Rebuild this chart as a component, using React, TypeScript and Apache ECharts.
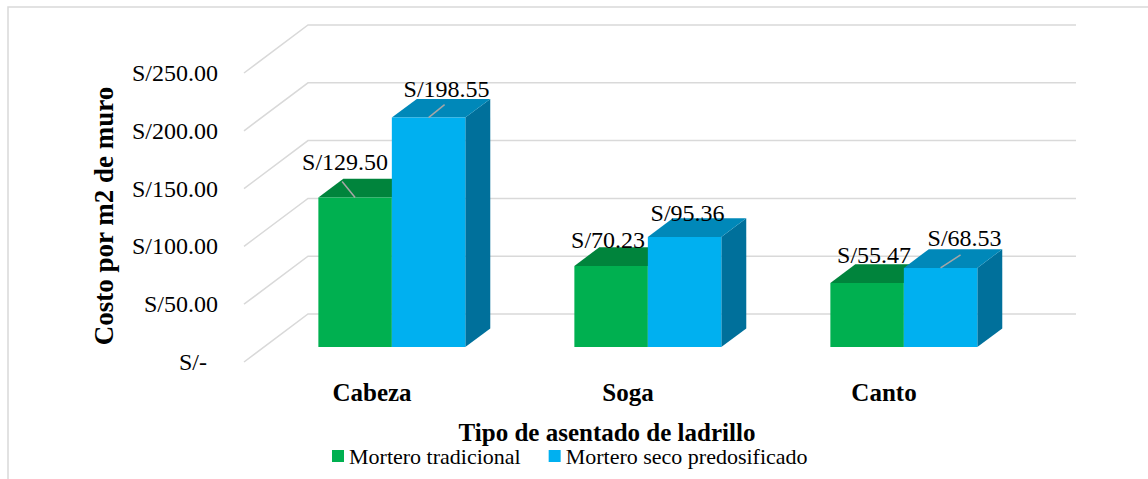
import React, { useEffect, useRef } from "react";
import * as echarts from "echarts";

const categories = ["Cabeza", "Soga", "Canto"];
const seriesNames = ["Mortero tradicional", "Mortero seco predosificado"];
const traditional = [129.5, 70.23, 55.47];
const dry = [198.55, 95.36, 68.53];
const yTicks = [0, 50, 100, 150, 200, 250];

// label placement tweaks (relative to the bar's front-top centre)
const tradLabelShift = [[-10, -35], [-3, -26], [7, -28]];
const dryLabelShift = [[18, -29], [3, -24], [24, -30]];
const tradLeader: (number[] | null)[] = [[-13, -16], null, null];
const dryLeader: (number[] | null)[] = [[16, -13], null, [20, -13]];

const FONT = "'Liberation Serif', serif";
const WALL = [64, -48];
const BAR_NEAR = 0.31;
const BAR_FAR = 0.7;
const BAR_FRAC = 0.287;

const GREEN = { front: "#00B050", top: "#00843C", side: "#006E32" };
const BLUE = { front: "#00B0F0", top: "#0088B9", side: "#00709B" };

function fmt(v: number) {
  return "S/" + v.toFixed(2);
}

function barRenderer(side: number, colors: any, shifts: number[][], leaders: (number[] | null)[]) {
  return (params: any, api: any) => {
    const i = params.dataIndex;
    const cat = api.value(0);
    const v = api.value(1);
    const p0 = api.coord([cat, 0]);
    const p1 = api.coord([cat, v]);
    const band = api.size([1, 0])[0];
    const w = band * BAR_FRAC;
    const ox = WALL[0] * BAR_NEAR;
    const oy = WALL[1] * BAR_NEAR;
    const dx = WALL[0] * (BAR_FAR - BAR_NEAR);
    const dy = WALL[1] * (BAR_FAR - BAR_NEAR);
    const xl = side < 0 ? p0[0] + ox - w : p0[0] + ox;
    const xr = xl + w;
    const yb = p0[1] + oy;
    const yt = p1[1] + oy;
    const cx = xl + w / 2;
    const children: any[] = [
      {
        type: "polygon",
        shape: { points: [[xr, yt], [xr + dx, yt + dy], [xr + dx, yb + dy], [xr, yb]] },
        style: { fill: colors.side },
      },
      {
        type: "polygon",
        shape: { points: [[xl, yt], [xl + dx, yt + dy], [xr + dx, yt + dy], [xr, yt]] },
        style: { fill: colors.top },
      },
      {
        type: "rect",
        shape: { x: xl, y: yt, width: w, height: yb - yt },
        style: { fill: colors.front },
      },
    ];
    const ld = leaders[i];
    if (ld) {
      children.push({
        type: "line",
        shape: { x1: cx, y1: yt, x2: cx + ld[0], y2: yt + ld[1] },
        style: { stroke: "#A6A6A6", lineWidth: 1.5 },
      });
    }
    const s = shifts[i];
    children.push({
      type: "text",
      style: {
        text: fmt(v),
        x: cx + s[0],
        y: yt + s[1],
        align: "center",
        verticalAlign: "middle",
        textAlign: "center",
        textVerticalAlign: "middle",
        fontSize: 24,
        fontFamily: FONT,
        fill: "#000",
      },
    });
    return { type: "group", children };
  };
}

export default function App() {
  const ref = useRef<HTMLDivElement>(null);
  useEffect(() => {
    if (!ref.current) return;
    const chart = echarts.init(ref.current, undefined, { renderer: "svg" });
    const option: any = {
      animation: false,
      backgroundColor: "#fff",
      textStyle: { fontFamily: FONT },
      grid: { left: 244, top: 73, width: 768, height: 289 },
      legend: {
        left: 332,
        top: 445,
        padding: 0,
        icon: "rect",
        itemWidth: 12,
        itemHeight: 12,
        itemGap: 28,
        textStyle: { fontSize: 22, fontFamily: FONT, color: "#000" },
        data: [
          { name: seriesNames[0], itemStyle: { color: GREEN.front } },
          { name: seriesNames[1], itemStyle: { color: BLUE.front } },
        ],
      },
      xAxis: {
        type: "category",
        data: categories,
        axisLine: { show: false },
        axisTick: { show: false },
        axisLabel: {
          margin: 18,
          fontSize: 25,
          fontWeight: "bold",
          fontFamily: FONT,
          color: "#000",
        },
      },
      yAxis: {
        type: "value",
        min: 0,
        max: 250,
        interval: 50,
        splitLine: { show: false },
        axisLine: { show: false },
        axisTick: { show: false },
        axisLabel: {
          margin: 26,
          fontSize: 24,
          fontFamily: FONT,
          color: "#000",
          formatter: (v: number) => (v === 0 ? "{z|S/-}" : fmt(v)),
          rich: { z: { fontSize: 24, fontFamily: FONT, color: "#000", padding: [0, 11, 0, 0] } },
        },
      },
      graphic: [
        {
          type: "rect",
          z: -10,
          shape: { x: 8, y: 7, width: 1400, height: 700 },
          style: { fill: "none", stroke: "#D9D9D9", lineWidth: 1.5 },
        },
        {
          type: "text",
          x: 104,
          y: 216,
          rotation: Math.PI / 2,
          style: {
            text: "Costo por m2 de muro",
            align: "center",
            verticalAlign: "middle",
            textAlign: "center",
            textVerticalAlign: "middle",
            fontSize: 27,
            fontWeight: "bold",
            fontFamily: FONT,
            fill: "#000",
          },
        },
        {
          type: "text",
          x: 607,
          y: 432,
          style: {
            text: "Tipo de asentado de ladrillo",
            align: "center",
            verticalAlign: "middle",
            textAlign: "center",
            textVerticalAlign: "middle",
            fontSize: 25,
            fontWeight: "bold",
            fontFamily: FONT,
            fill: "#000",
          },
        },
      ],
      series: [
        {
          type: "custom",
          name: "walls",
          z: 1,
          clip: false,
          silent: true,
          coordinateSystem: "cartesian2d",
          encode: { x: 0, y: 1 },
          data: yTicks.map((t) => [0, t]),
          renderItem: (params: any, api: any) => {
            const cs = params.coordSys;
            const p = api.coord([0, api.value(1)]);
            const y = p[1];
            return {
              type: "polyline",
              shape: {
                points: [
                  [cs.x, y],
                  [cs.x + WALL[0], y + WALL[1]],
                  [cs.x + cs.width + WALL[0], y + WALL[1]],
                ],
              },
              style: { stroke: "#D9D9D9", lineWidth: 1.5, fill: "none" },
            };
          },
        },
        {
          type: "custom",
          name: seriesNames[0],
          z: 2,
          clip: false,
          coordinateSystem: "cartesian2d",
          encode: { x: 0, y: 1 },
          itemStyle: { color: GREEN.front },
          data: categories.map((_, i) => [i, traditional[i]]),
          renderItem: barRenderer(-1, GREEN, tradLabelShift, tradLeader),
        },
        {
          type: "custom",
          name: seriesNames[1],
          z: 3,
          clip: false,
          coordinateSystem: "cartesian2d",
          encode: { x: 0, y: 1 },
          itemStyle: { color: BLUE.front },
          data: categories.map((_, i) => [i, dry[i]]),
          renderItem: barRenderer(1, BLUE, dryLabelShift, dryLeader),
        },
      ],
    };
    chart.setOption(option);
    return () => chart.dispose();
  }, []);
  return (
    <div
      ref={ref}
      style={{ position: "fixed", left: 0, top: 0, width: 1148, height: 479, background: "#fff" }}
    />
  );
}
